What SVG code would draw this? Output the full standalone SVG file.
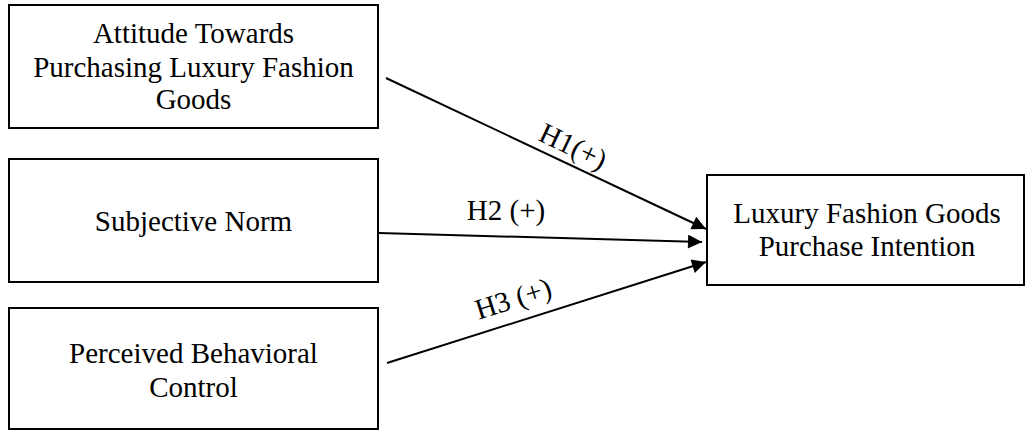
<svg xmlns="http://www.w3.org/2000/svg" width="1026" height="431" viewBox="0 0 1026 431">
<style>
.box{fill:#fff;stroke:#000;stroke-width:2}
.t{font-family:"Liberation Serif","Times New Roman",serif;font-size:29px;fill:#000;text-anchor:middle}
.c{stroke:#000;stroke-width:2;fill:none;marker-end:url(#ah)}
</style>
<defs>
<marker id="ah" viewBox="0 0 10 10" refX="10" refY="5" markerWidth="8" markerHeight="7" markerUnits="strokeWidth" orient="auto">
<path d="M0,0 L10,5 L0,10 z" fill="#000"/>
</marker>
</defs>
<g id="n1">
<rect class="box" x="9" y="5" width="369" height="123"/>
<text class="t" x="193.5" y="43">Attitude Towards</text>
<text class="t" x="193.5" y="77">Purchasing Luxury Fashion</text>
<text class="t" x="193.5" y="109">Goods</text>
</g>
<g id="n2">
<rect class="box" x="9" y="159" width="369" height="123"/>
<text class="t" x="193.5" y="231">Subjective Norm</text>
</g>
<g id="n3">
<rect class="box" x="9" y="308" width="369" height="121"/>
<text class="t" x="193.5" y="363">Perceived Behavioral</text>
<text class="t" x="193.5" y="397">Control</text>
</g>
<g id="n4">
<rect class="box" x="707" y="175" width="317" height="110"/>
<text class="t" x="867" y="223">Luxury Fashion Goods</text>
<text class="t" x="867" y="256">Purchase Intention</text>
</g>
<g id="connectors">
<line class="c" x1="386" y1="78" x2="706" y2="229"/>
<line class="c" x1="379" y1="233" x2="702" y2="242"/>
<line class="c" x1="387" y1="363" x2="706" y2="262"/>
<text class="t" transform="translate(569,155) rotate(25.5)">H1(+)</text>
<text class="t" x="506" y="220">H2 (+)</text>
<text class="t" transform="translate(516,308) rotate(-17.5)">H3 (+)</text>
</g>
</svg>
